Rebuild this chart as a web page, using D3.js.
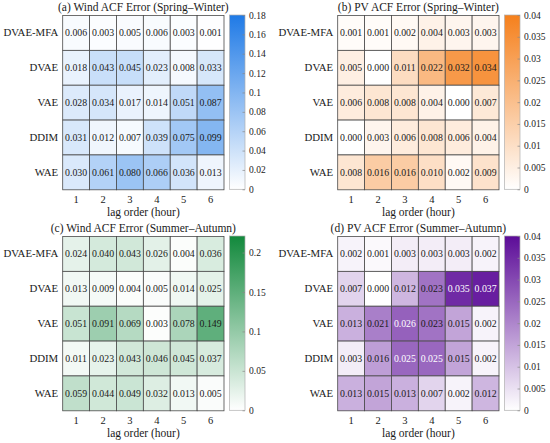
<!DOCTYPE html>
<html>
<head>
<meta charset="utf-8">
<script src="https://cdn.jsdelivr.net/npm/d3@7"></script>
<style>
    body { margin: 0; background: #fff; }
    svg text { font-family: "Liberation Serif", "Times New Roman", serif; fill: #1a1a1a; }
</style>
</head>
<body>
<svg id="chart" width="550" height="443"></svg>
<script>
// 行：模型，列：滞后阶数
var models = ["DVAE-MFA", "DVAE", "VAE", "DDIM", "WAE"];
var lags = [1, 2, 3, 4, 5, 6];

var windSW = [
    [0.006, 0.003, 0.005, 0.006, 0.003, 0.001],
    [0.018, 0.043, 0.045, 0.023, 0.008, 0.033],
    [0.028, 0.034, 0.017, 0.014, 0.051, 0.087],
    [0.031, 0.012, 0.007, 0.039, 0.075, 0.099],
    [0.030, 0.061, 0.080, 0.066, 0.036, 0.013]
];
var pvSW = [
    [0.001, 0.001, 0.002, 0.004, 0.003, 0.003],
    [0.005, 0.000, 0.011, 0.022, 0.032, 0.034],
    [0.006, 0.008, 0.008, 0.004, 0.000, 0.007],
    [0.000, 0.003, 0.006, 0.008, 0.006, 0.004],
    [0.008, 0.016, 0.016, 0.010, 0.002, 0.009]
];
var windSA = [
    [0.024, 0.040, 0.043, 0.026, 0.004, 0.036],
    [0.013, 0.009, 0.004, 0.005, 0.014, 0.025],
    [0.051, 0.091, 0.069, 0.003, 0.078, 0.149],
    [0.011, 0.023, 0.043, 0.046, 0.045, 0.037],
    [0.059, 0.044, 0.049, 0.032, 0.013, 0.005]
];
var pvSA = [
    [0.002, 0.001, 0.003, 0.003, 0.003, 0.002],
    [0.007, 0.000, 0.012, 0.023, 0.035, 0.037],
    [0.013, 0.021, 0.026, 0.023, 0.015, 0.002],
    [0.003, 0.016, 0.025, 0.025, 0.015, 0.002],
    [0.013, 0.015, 0.013, 0.007, 0.002, 0.012]
];

var ticksWindSW = [0, 0.02, 0.04, 0.06, 0.08, 0.1, 0.12, 0.14, 0.16, 0.18];
var ticksPV = [0, 0.005, 0.01, 0.015, 0.02, 0.025, 0.03, 0.035, 0.04];
var ticksWindSA = [0, 0.05, 0.1, 0.15, 0.2];

var panels = [
    {id: "a", title: "(a) Wind ACF Error (Spring\u2013Winter)", data: windSW, max: 0.18, ticks: ticksWindSW, color: "#1f7ae6", ox: 0, oy: 0},
    {id: "b", title: "(b) PV ACF Error (Spring\u2013Winter)", data: pvSW, max: 0.04, ticks: ticksPV, color: "#f5801c", ox: 275, oy: 0},
    {id: "c", title: "(c) Wind ACF Error (Summer\u2013Autumn)", data: windSA, max: 0.221, ticks: ticksWindSA, color: "#12893c", ox: 0, oy: 221},
    {id: "d", title: "(d) PV ACF Error (Summer\u2013Autumn)", data: pvSA, max: 0.04, ticks: ticksPV, color: "#5c0c98", ox: 275, oy: 221}
];

var serif = "'Liberation Serif', 'Times New Roman', serif";
var svg = d3.select("#chart");
var defs = svg.append("defs");

// 热图区域（相对每个子图）
var hmLeft = 62.7, hmRight = 224, hmTop = 15.5, hmBottom = 189.8;
var cbX = 229.5, cbW = 15.5;

panels.map(drawPanel);

function drawPanel(p) {
    var g = svg.append("g").attr("transform", "translate(" + p.ox + "," + p.oy + ")");

    var x = d3.scaleBand().domain(lags).range([hmLeft, hmRight]);
    var y = d3.scaleBand().domain(models).range([hmTop, hmBottom]);
    var color = d3.scaleLinear().domain([0, p.max]).range(["#ffffff", p.color]).clamp(true);

    var cells = [];
    p.data.forEach(function (row, i) {
        row.forEach(function (v, j) {
            cells.push({model: models[i], lag: lags[j], value: v});
        });
    });

    // 单元格
    var cell = g.selectAll("g.cell").data(cells).enter().append("g").classed("cell", true);
    cell.append("rect")
        .attr("x", function (d) { return x(d.lag); })
        .attr("y", function (d) { return y(d.model); })
        .attr("width", x.bandwidth())
        .attr("height", y.bandwidth())
        .attr("fill", function (d) { return color(d.value); })
        .attr("stroke", "#4a4a4a")
        .attr("stroke-width", 0.8);
    cell.append("text")
        .attr("x", function (d) { return x(d.lag) + x.bandwidth() / 2; })
        .attr("y", function (d) { return y(d.model) + y.bandwidth() / 2; })
        .attr("dy", "0.35em")
        .attr("text-anchor", "middle")
        .style("font-size", "9.8px")
        .style("fill", function (d) { return d3.lab(color(d.value)).l < 53.5 ? "#ffffff" : "#1a1a1a"; })
        .text(function (d) { return d3.format(".3f")(d.value); });

    // 坐标轴
    var xAxis = g.append("g")
        .attr("transform", "translate(0," + hmBottom + ")")
        .call(d3.axisBottom(x).tickSize(0).tickPadding(6));
    xAxis.select(".domain").remove();
    xAxis.attr("font-family", serif).attr("font-size", 10.5);

    var yAxis = g.append("g")
        .attr("transform", "translate(" + hmLeft + ",0)")
        .call(d3.axisLeft(y).tickSize(0).tickPadding(4.5));
    yAxis.select(".domain").remove();
    yAxis.attr("font-family", serif).attr("font-size", 10.8);

    g.append("text")
        .attr("x", (hmLeft + hmRight) / 2)
        .attr("y", 215.5)
        .attr("text-anchor", "middle")
        .style("font-size", "11.5px")
        .text("lag order (hour)");

    g.append("text")
        .attr("x", (hmLeft + hmRight) / 2)
        .attr("y", 11)
        .attr("text-anchor", "middle")
        .style("font-size", "11.5px")
        .text(p.title);

    // 色条
    var grad = defs.append("linearGradient")
        .attr("id", "grad-" + p.id)
        .attr("x1", 0).attr("y1", 1).attr("x2", 0).attr("y2", 0);
    grad.append("stop").attr("offset", "0%").attr("stop-color", color(0));
    grad.append("stop").attr("offset", "100%").attr("stop-color", color(p.max));

    var cbScale = d3.scaleLinear().domain([0, p.max]).range([hmBottom - 0.5, hmTop - 0.5]);
    g.append("rect")
        .attr("x", cbX)
        .attr("y", cbScale(p.max))
        .attr("width", cbW)
        .attr("height", cbScale(0) - cbScale(p.max))
        .attr("fill", "url(#grad-" + p.id + ")")
        .attr("stroke", "#b0b0b0")
        .attr("stroke-width", 0.7);

    var cbAxis = g.append("g")
        .attr("transform", "translate(" + (cbX + cbW) + ",0)")
        .call(d3.axisRight(cbScale).tickValues(p.ticks).tickSize(-2.5).tickPadding(4)
            .tickFormat(function (v) { return String(+v.toFixed(3)); }));
    cbAxis.select(".domain").remove();
    cbAxis.attr("font-family", serif).attr("font-size", 9.5);
    cbAxis.selectAll(".tick line").attr("stroke", "#888").attr("stroke-width", 0.7);

    g.selectAll("g.tick text").attr("fill", "#1a1a1a");
}
</script>
</body>
</html>
